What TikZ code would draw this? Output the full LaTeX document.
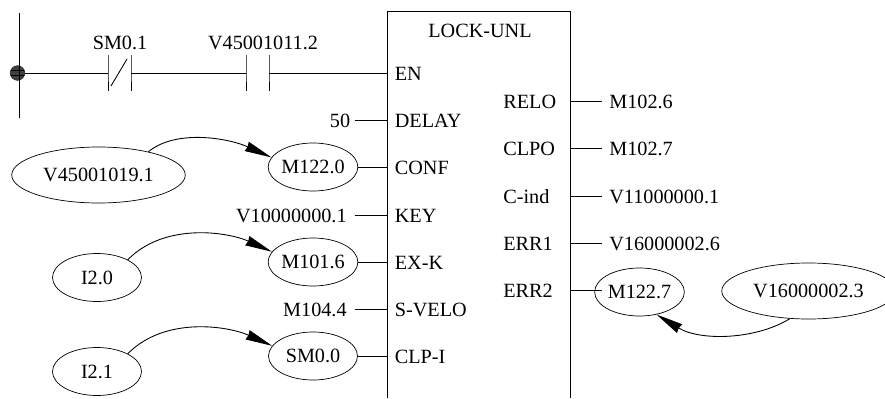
\documentclass[tikz,border=0pt]{standalone}
\usepackage{fontspec}
\setmainfont{Liberation Serif}
\usetikzlibrary{patterns}
\usetikzlibrary{arrows.meta}
\usetikzlibrary{shapes.geometric}
\tikzset{
  lbl/.style={black, font=\fontsize{11.5}{13}\selectfont, inner sep=0.15cm, text height=8pt, text depth=0pt},
  tag/.style={draw, black, ellipse, inner sep=0pt, font=\fontsize{11.5}{13}\selectfont},
  smalltag/.style={tag, minimum width=1.78cm, minimum height=0.96cm},
  bigtag/.style={tag, minimum width=3.47cm, minimum height=1.12cm},
  wire/.style={black, line width=0.5pt},
  flow/.style={black, line width=0.5pt, -{Stealth[length=0.54cm, width=0.2cm, inset=0.02cm]}}
}

\begin{document}
\begin{tikzpicture} [scale = 1]
\useasboundingbox (0, 0) rectangle (17.7, 7.96);
\draw[wire] (7.74, 0.0) -- (7.74, 7.74) -- (11.4, 7.74) -- (11.4, 0.0);
\node[lbl] (title) at (9.6, 7.36){LOCK-UNL};

\coordinate (railtop) at (0.38, 7.7);
\coordinate (railbot) at (0.38, 5.6);
\node[circle, draw=black!80, fill=black!75, postaction={pattern=horizontal lines}, minimum size=0.29cm, inner sep=0pt] (dot) at (0.35, 6.5){};
\draw[wire] (railtop) -- (railbot);

\coordinate (nca) at (2.16, 6.5);
\coordinate (ncb) at (2.62, 6.5);
\coordinate (noa) at (4.92, 6.5);
\coordinate (nob) at (5.38, 6.5);
\draw[wire] (2.16, 6.86) -- (nca) -- (2.16, 6.14);
\draw[wire] (2.62, 6.86) -- (ncb) -- (2.62, 6.14);
\draw[wire] (2.22, 6.24) -- (2.54, 6.78);
\draw[wire] (4.92, 6.86) -- (noa) -- (4.92, 6.14);
\draw[wire] (5.38, 6.86) -- (nob) -- (5.38, 6.14);
\node[lbl] (sm) at (2.4, 7.12){SM0.1};
\node[lbl] (vcontact) at (5.26, 7.12){V45001011.2};

\node[lbl, anchor=west] (en) at (7.74, 6.5){EN};
\node[lbl, anchor=west] (delay) at (7.74, 5.56){DELAY};
\node[lbl, anchor=west] (conf) at (7.74, 4.62){CONF};
\node[lbl, anchor=west] (key) at (7.74, 3.66){KEY};
\node[lbl, anchor=west] (exk) at (7.74, 2.72){EX-K};
\node[lbl, anchor=west] (svelo) at (7.74, 1.78){S-VELO};
\node[lbl, anchor=west] (clpi) at (7.74, 0.84){CLP-I};

\draw[wire] (dot.east) -- (nca);
\draw[wire] (ncb) -- (noa);
\draw[wire] (nob) -- (en.west);

\node[lbl, anchor=east, inner xsep=0.08cm] (delayval) at (7.09, 5.56){50};
\node[lbl, anchor=east] (keyval) at (7.09, 3.66){V10000000.1};
\node[lbl, anchor=east] (sveloval) at (7.09, 1.78){M104.4};
\draw[wire] (delayval.east) -- (delay.west);
\draw[wire] (keyval.east) -- (key.west);
\draw[wire] (sveloval.east) -- (svelo.west);

\node[smalltag] (mconf) at (6.26, 4.62){M122.0};
\node[smalltag] (mexk) at (6.26, 2.72){M101.6};
\node[smalltag] (smclp) at (6.26, 0.84){SM0.0};
\draw[wire] (mconf.east) -- (conf.west);
\draw[wire] (mexk.east) -- (exk.west);
\draw[wire] (smclp.east) -- (clpi.west);

\node[bigtag] (vconf) at (1.97, 4.46){V45001019.1};
\node[smalltag] (itwo) at (1.94, 2.41){I2.0};
\node[smalltag] (itwoone) at (1.94, 0.53){I2.1};
\draw[flow] (vconf.25).. controls(3.52, 5.38)and(4.56, 5.2)..(mconf.167);
\draw[flow] (itwo.30).. controls(3.3, 3.52)and(4.56, 3.32)..(mexk.166);
\draw[flow] (itwoone.30).. controls(3.3, 1.64)and(4.56, 1.44)..(smclp.166);

\node[lbl, anchor=west] (relo) at (9.91, 5.94){RELO};
\node[lbl, anchor=west] (clpo) at (9.91, 5.0){CLPO};
\node[lbl, anchor=west] (cind) at (9.91, 4.03){C-ind};
\node[lbl, anchor=west] (errone) at (9.91, 3.1){ERR1};
\node[lbl, anchor=west] (errtwo) at (9.91, 2.16){ERR2};

\coordinate (relopin) at (11.42, 5.94);
\coordinate (clpopin) at (11.42, 5.0);
\coordinate (cindpin) at (11.42, 4.03);
\coordinate (erronepin) at (11.42, 3.1);
\coordinate (errtwopin) at (11.42, 2.16);
\coordinate (merrpin) at (12.03, 2.16);

\node[lbl, anchor=west] (reloval) at (12.03, 5.94){M102.6};
\node[lbl, anchor=west] (clpoval) at (12.03, 5.0){M102.7};
\node[lbl, anchor=west] (cindval) at (12.03, 4.03){V11000000.1};
\node[lbl, anchor=west] (erroneval) at (12.03, 3.1){V16000002.6};
\draw[wire] (relopin) -- (reloval.west);
\draw[wire] (clpopin) -- (clpoval.west);
\draw[wire] (cindpin) -- (cindval.west);
\draw[wire] (erronepin) -- (erroneval.west);

\node[smalltag] (merr) at (12.79, 2.12){M122.7};
\node[bigtag] (verr) at (16.17, 2.14){V16000002.3};
\draw[wire] (errtwopin) -- (merrpin);
\draw[flow] (verr.236).. controls(15.1, 1.16)and(14.0, 1.14)..(merr.-53);
\end{tikzpicture}
\end{document}
